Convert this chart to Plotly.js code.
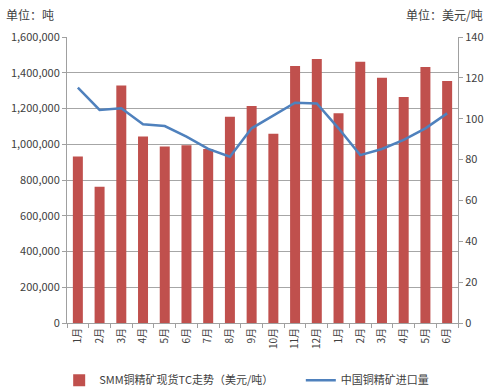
<!DOCTYPE html>
<html>
<head>
<meta charset="utf-8">
<script src="https://cdn.plot.ly/plotly-3.0.1.min.js"></script>
<style>html,body{margin:0;padding:0;background:#fff;}#chart{width:500px;height:390px;}</style>
</head>
<body>
<div id="chart"></div>
<script>
const monthLabels = ["1月","2月","3月","4月","5月","6月","7月","8月","9月","10月","11月","12月","1月","2月","3月","4月","5月","6月"];
const barValues = [932000, 762000, 1328000, 1044000, 988000, 994000, 973000, 1154000, 1214000, 1059000, 1438000, 1477000, 1173000, 1462000, 1372000, 1264000, 1432000, 1354000];
const lineValues = [115.2, 104.3, 105.1, 97.3, 96.4, 91.2, 85.2, 81.4, 95.3, 101.4, 107.8, 107.5, 95.3, 82.2, 85.2, 89.6, 95.3, 102.6];
const barName = "SMM铜精矿现货TC走势（美元/吨）";
const lineName = "中国铜精矿进口量";

const xIdx = monthLabels.map((_, i) => i);
const font = "Noto Sans CJK SC, Noto Sans, sans-serif";

const traces = [
  {type: "bar", x: xIdx, y: barValues, name: barName, marker: {color: "#C0504D"}, width: 0.46, yaxis: "y", legend: "legend"},
  {type: "scatter", mode: "lines", x: xIdx, y: lineValues, name: lineName, line: {color: "#4F81BD", width: 2.5}, yaxis: "y2", legend: "legend2"}
];

const legendBase = {orientation: "h", xanchor: "left", y: -0.2, yanchor: "middle", font: {size: 11, color: "#404040"}, bgcolor: "rgba(0,0,0,0)"};

const layout = {
  width: 500, height: 390,
  margin: {l: 67, r: 42, t: 37, b: 67, autoexpand: false},
  paper_bgcolor: "#fff", plot_bgcolor: "#fff",
  font: {family: font, size: 11, color: "#404040"},
  showlegend: true,
  legend: Object.assign({}, legendBase, {x: -0.02}),
  legend2: Object.assign({}, legendBase, {x: 0.598}),
  xaxis: {
    automargin: false,
    range: [-0.5, 17.5], tickvals: xIdx, ticktext: monthLabels, tickangle: -90,
    ticks: "", showgrid: false, zeroline: false, showline: true, linecolor: "#A0A0A0", linewidth: 1,
    tickfont: {size: 10, color: "#404040"},
    minor: {tick0: -0.5, dtick: 1, ticks: "outside", ticklen: 4, tickcolor: "#A0A0A0", showgrid: false}
  },
  yaxis: {
    automargin: false,
    range: [0, 1600000], dtick: 200000, tickformat: ",d", showgrid: true, gridcolor: "#A6A6A6", gridwidth: 1,
    zeroline: false, showline: true, linecolor: "#A0A0A0", ticks: "outside", ticklen: 4, tickcolor: "#A0A0A0",
    tickfont: {size: 11, color: "#404040"}
  },
  yaxis2: {
    automargin: false,
    range: [0, 140], dtick: 20, overlaying: "y", side: "right", showgrid: false, zeroline: false,
    showline: true, linecolor: "#A0A0A0", ticks: "outside", ticklen: 4, tickcolor: "#A0A0A0",
    tickfont: {size: 11, color: "#404040"}
  },
  bargap: 0.54,
  annotations: [
    {text: "单位：吨", xref: "paper", yref: "paper", x: -0.16, y: 1.08, xanchor: "left", yanchor: "middle", showarrow: false, font: {size: 12, color: "#404040"}},
    {text: "单位：美元/吨", xref: "paper", yref: "paper", x: 1.07, y: 1.08, xanchor: "right", yanchor: "middle", showarrow: false, font: {size: 12, color: "#404040"}}
  ]
};

Plotly.newPlot("chart", traces, layout, {displayModeBar: false, staticPlot: true});
</script>
</body>
</html>
